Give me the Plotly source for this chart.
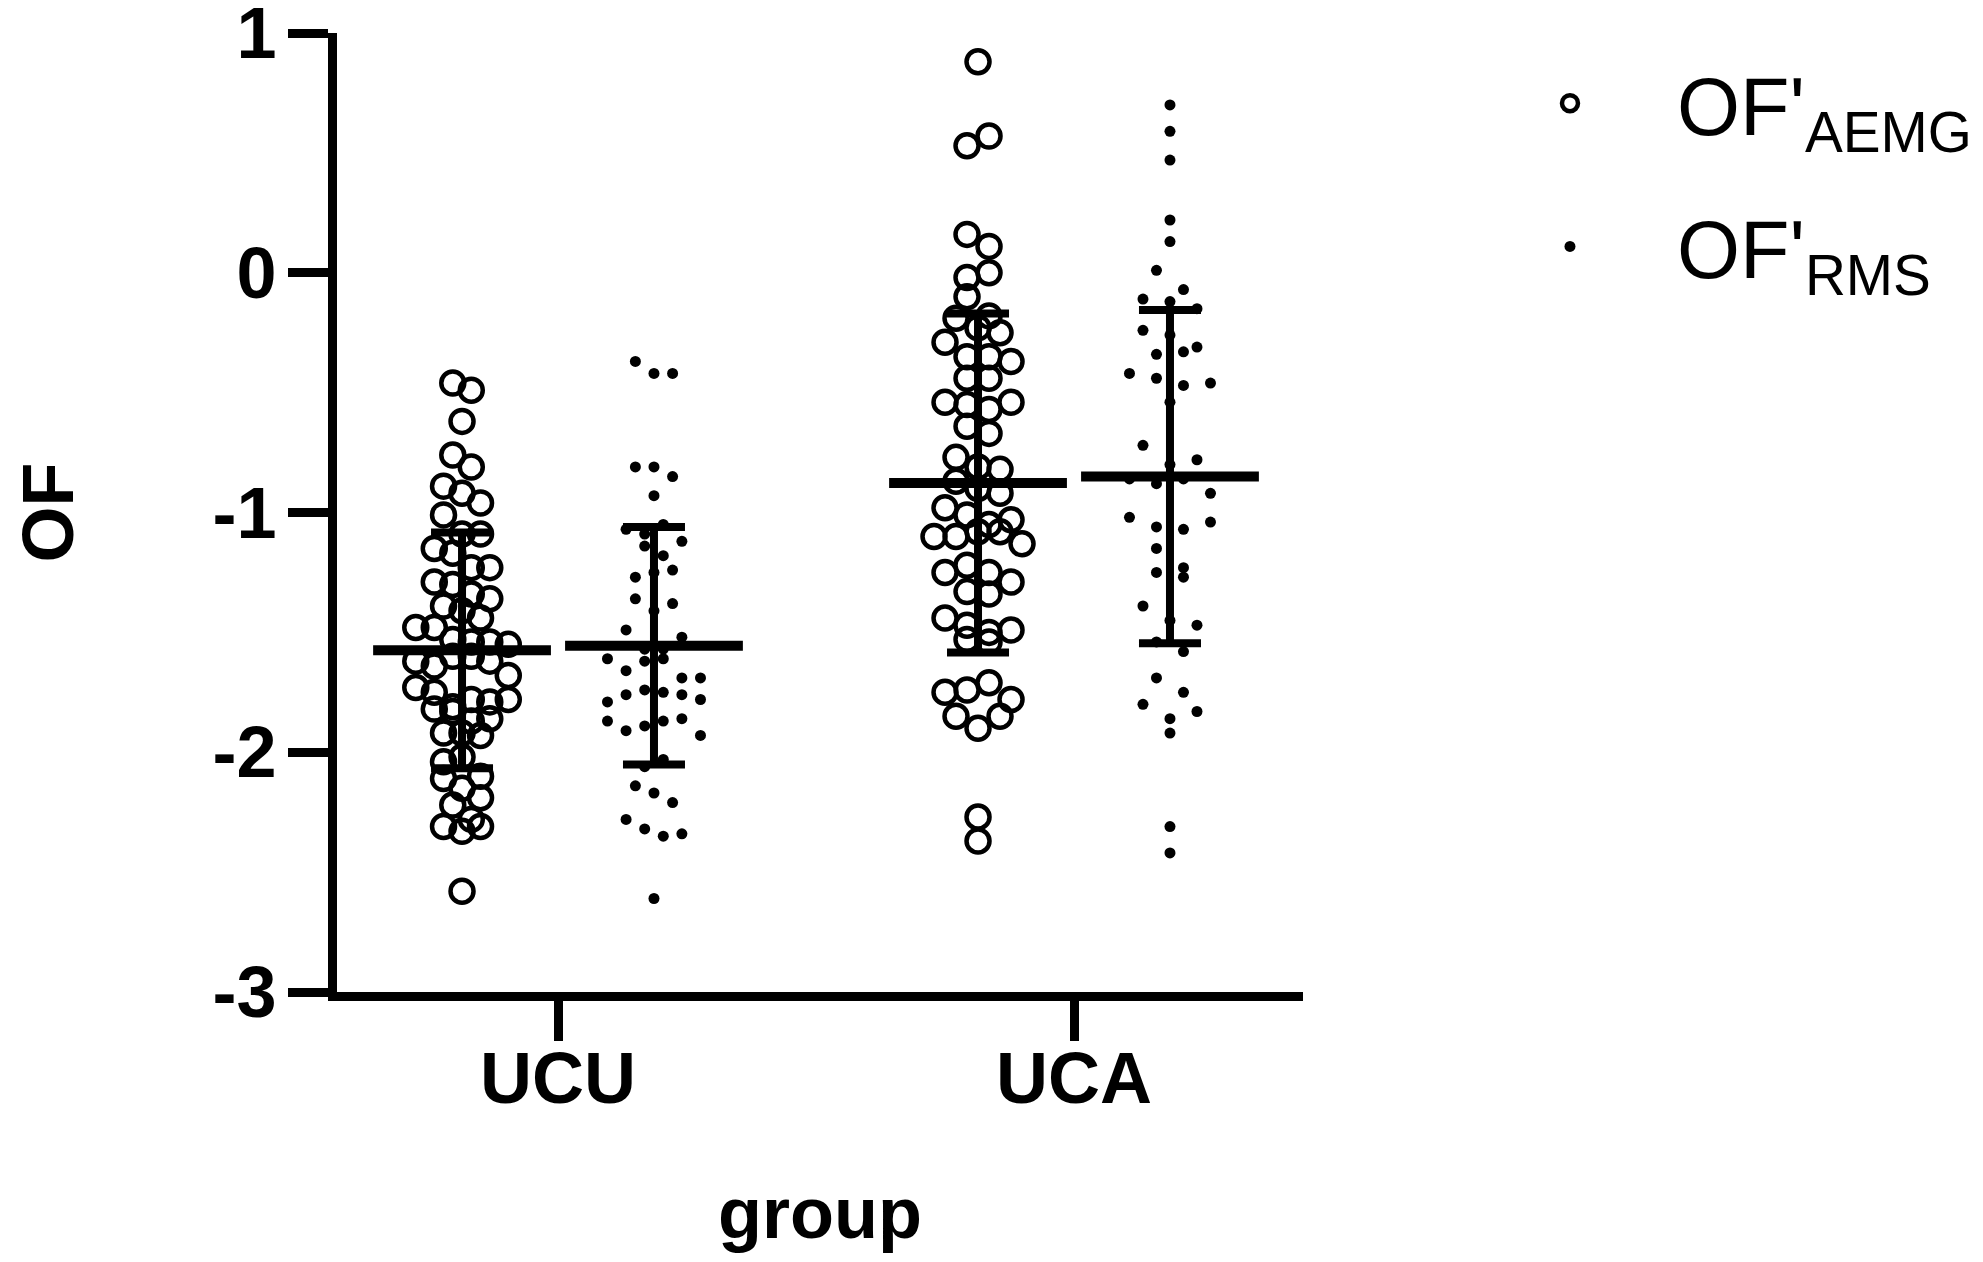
"""
plot.py

Scatter dot plot of OF by group (UCU / UCA),
OF'AEMG vs OF'RMS, with mean and SD bars.
"""

import plotly.graph_objects as go

# =============================================================================
# Data
# =============================================================================

groups = ["UCU", "UCA"]

ucu_aemg = [
    -0.46, -0.49, -0.62, -0.76, -0.81, -0.89, -0.92, -0.96, -1.01, -1.09,
    -1.09, -1.15, -1.17, -1.23, -1.23, -1.29, -1.30, -1.34, -1.36, -1.39,
    -1.41, -1.44, -1.48, -1.48, -1.53, -1.54, -1.54, -1.55, -1.62, -1.64,
    -1.60, -1.60, -1.62, -1.73, -1.68, -1.75, -1.81, -1.82, -1.78, -1.79,
    -1.78, -1.83, -1.87, -1.86, -1.92, -1.92, -1.93, -2.04, -2.02, -2.10,
    -2.11, -2.15, -2.19, -2.22, -2.31, -2.28, -2.33, -2.31, -2.58,
]

ucu_rms = [
    -0.37, -0.42, -0.42, -0.81, -0.81, -0.85, -0.93, -1.07, -1.09, -1.05,
    -1.12, -1.14, -1.18, -1.27, -1.25, -1.24, -1.36, -1.41, -1.38, -1.49,
    -1.57, -1.57, -1.52, -1.61, -1.66, -1.62, -1.61, -1.69, -1.69, -1.79,
    -1.76, -1.74, -1.75, -1.76, -1.78, -1.87, -1.91, -1.89, -1.87, -1.86,
    -1.93, -2.06, -2.03, -2.14, -2.17, -2.21, -2.28, -2.32, -2.35, -2.34,
    -2.61,
]

uca_aemg = [
    0.88, 0.53, 0.57, 0.16, 0.11, -0.02, 0.00, -0.10, -0.18, -0.19,
    -0.23, -0.25, -0.29, -0.35, -0.35, -0.37, -0.44, -0.44, -0.54, -0.55,
    -0.57, -0.54, -0.64, -0.67, -0.77, -0.81, -0.82, -0.87, -0.90, -0.92,
    -0.98, -1.01, -1.05, -1.03, -1.10, -1.10, -1.08, -1.08, -1.13, -1.25,
    -1.22, -1.25, -1.29, -1.33, -1.34, -1.44, -1.47, -1.50, -1.49, -1.53,
    -1.54, -1.75, -1.74, -1.71, -1.78, -1.85, -1.90, -1.85, -2.27, -2.37,
]

uca_rms = [
    0.70, 0.59, 0.47, 0.22, 0.13, 0.01, -0.07, -0.11, -0.12, -0.15,
    -0.24, -0.26, -0.31, -0.34, -0.33, -0.42, -0.44, -0.47, -0.46, -0.54,
    -0.72, -0.80, -0.78, -0.86, -0.88, -0.86, -0.92, -1.02, -1.06, -1.07,
    -1.04, -1.15, -1.23, -1.25, -1.27, -1.39, -1.45, -1.47, -1.54, -1.58,
    -1.69, -1.75, -1.80, -1.86, -1.83, -1.92, -2.31, -2.42,
]

# mean and SD per group (UCU, UCA)
mean_aemg = [-1.575, -0.877]
sd_aemg = [0.492, 0.707]
mean_rms = [-1.556, -0.850]
sd_rms = [0.495, 0.695]

y_tick_vals = [-3, -2, -1, 0, 1]
y_tick_text = ["-3", "-2", "-1", "0", "1"]

# =============================================================================
# Layout constants (figure px; the page body adds an 8 px margin)
# =============================================================================

W, H = 1975, 1254
PLOT_L, PLOT_R, PLOT_T, PLOT_B = 329, 1295, 25, 984
X_RANGE = [0.5717, 2.4438]
Y_RANGE = [-3, 1]
PX_X = (PLOT_R - PLOT_L) / (X_RANGE[1] - X_RANGE[0])
PX_Y = (PLOT_B - PLOT_T) / (Y_RANGE[1] - Y_RANGE[0])
OFFSET = 0.186
FONT = "Liberation Sans"


def row_offsets(values, spacing, row_h=20.0):
    """Prism-like scatter layout: bin points into rows, centre each row."""
    order = sorted(range(len(values)), key=lambda i: -values[i])
    rows = []
    for i in order:
        if rows and (values[rows[-1][0]] - values[i]) * PX_Y < row_h:
            rows[-1].append(i)
        else:
            rows.append([i])
    offs = [0.0] * len(values)
    for row in rows:
        m = len(row)
        for k, i in enumerate(sorted(row)):
            offs[i] = (k - (m - 1) / 2) * spacing / PX_X
    return offs


fig = go.Figure()

series = [
    ("OF'<sub>AEMG</sub>", "aemg", [ucu_aemg, uca_aemg], -OFFSET, [18.5, 22],
     dict(symbol="circle-open", size=23, color="black",
          line=dict(width=4.5, color="black")),
     mean_aemg, sd_aemg),
    ("OF'<sub>RMS</sub>", "rms", [ucu_rms, uca_rms], OFFSET, [18.6, 27],
     dict(symbol="circle", size=11, color="black",
          line=dict(width=0)),
     mean_rms, sd_rms),
]

for name, key, data, off, spacings, marker, means, sds in series:
    for i, vals in enumerate(data):
        xc = i + 1 + off
        fig.add_trace(go.Scatter(
            x=[xc + o for o in row_offsets(vals, spacings[i])],
            y=vals,
            mode="markers",
            marker=marker,
            name=name,
            legendgroup=key,
            showlegend=(i == 0),
        ))

    # mean line + SD bars
    fig.add_trace(go.Scatter(
        x=[g + 1 + off for g in range(len(groups))],
        y=means,
        mode="markers",
        marker=dict(symbol="line-ew", size=127,
                    line=dict(width=10, color="black")),
        error_y=dict(type="data", array=sds, visible=True,
                     thickness=8, width=31, color="black"),
        showlegend=False,
        hoverinfo="skip",
    ))

axis_common = dict(
    showline=True,
    linecolor="black",
    linewidth=9,
    ticks="outside",
    ticklen=40,
    tickwidth=9,
    tickcolor="black",
    showgrid=False,
    zeroline=False,
    ticklabeloverflow="allow",
    tickfont=dict(family=FONT, size=72, color="black", weight="bold"),
)

fig.update_layout(
    width=W,
    height=H,
    margin=dict(l=PLOT_L, r=W - PLOT_R, t=PLOT_T, b=H - PLOT_B,
                autoexpand=False),
    paper_bgcolor="white",
    plot_bgcolor="white",
    xaxis=dict(
        range=X_RANGE,
        tickvals=[1, 2],
        ticktext=groups,
        ticklabelstandoff=-24,
        title=dict(text="group", standoff=74,
                   font=dict(family=FONT, size=72, color="black",
                             weight="bold")),
        **axis_common,
    ),
    yaxis=dict(
        range=Y_RANGE,
        tickvals=y_tick_vals,
        ticktext=y_tick_text,
        ticklabelstandoff=-3,
        title=dict(text="OF", standoff=170,
                   font=dict(family=FONT, size=72, color="black",
                             weight="bold")),
        **axis_common,
    ),
    legend=dict(
        xref="container",
        yref="container",
        x=0.7367,
        y=0.9713,
        xanchor="left",
        yanchor="top",
        font=dict(family=FONT, size=81, color="black"),
        tracegroupgap=35,
        itemwidth=204,
        bgcolor="rgba(0,0,0,0)",
    ),
)

fig.write_html("out.html")
